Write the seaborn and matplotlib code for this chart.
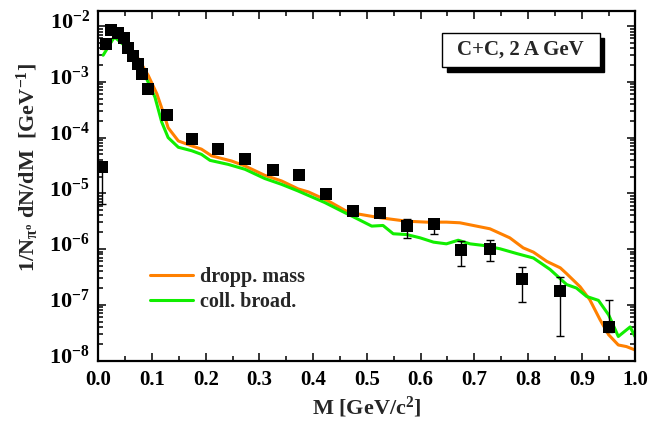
import numpy as np
import pandas as pd
import matplotlib
matplotlib.use("Agg")
import matplotlib.pyplot as plt
import matplotlib.ticker as mticker
import matplotlib.transforms as mtransforms
from matplotlib.patches import Rectangle
import seaborn as sns

# ---- measured e+e- spectrum (HADES-like points) ----
mass_pts = [0.007, 0.014, 0.024, 0.037, 0.047, 0.056, 0.064, 0.073, 0.082, 0.093,
            0.127, 0.174, 0.223, 0.274, 0.325, 0.374, 0.424, 0.474, 0.524,
            0.574, 0.625, 0.675, 0.729, 0.789, 0.859, 0.950]
yield_pts = [3.0e-5, 4.8e-3, 8.4e-3, 7.5e-3, 6.2e-3, 4.1e-3, 2.86e-3, 2.05e-3, 1.39e-3, 7.5e-4,
             2.5e-4, 9.4e-5, 6.2e-5, 4.1e-5, 2.6e-5, 2.1e-5, 9.6e-6, 4.8e-6, 4.5e-6,
             2.58e-6, 2.76e-6, 9.8e-7, 1.0e-6, 2.9e-7, 1.74e-7, 4.07e-8]
# upper / lower ends of the error bars (nan = hidden behind the marker)
err_hi = [np.nan] * 19 + [3.5e-6, 3.5e-6, 1.38e-6, 1.44e-6, 4.8e-7, 3.2e-7, 1.2e-7]
err_lo = [6.3e-6] + [np.nan] * 18 + [1.58e-6, 1.9e-6, 5.0e-7, 6.0e-7, 1.14e-7, 2.76e-8, 3.2e-8]

# ---- transport calculation: dropping mass scenario ----
mass_drop = [0.009, 0.031, 0.056, 0.0745, 0.093, 0.109, 0.124, 0.130, 0.149, 0.174, 0.192,
             0.211, 0.248, 0.273, 0.310, 0.341, 0.372, 0.391, 0.428, 0.465, 0.487, 0.524,
             0.574, 0.611, 0.648, 0.673, 0.704, 0.729, 0.766, 0.791, 0.810, 0.835, 0.860,
             0.872, 0.897, 0.915, 0.934, 0.950, 0.968, 0.983, 0.999]
yield_drop = [3.9e-3, 6.5e-3, 4.2e-3, 2.6e-3, 1.3e-3, 6.1e-4, 2.3e-4, 1.5e-4, 8.7e-5, 7.1e-5, 6.2e-5,
              4.7e-5, 3.8e-5, 3.1e-5, 2.1e-5, 1.67e-5, 1.2e-5, 1.06e-5, 7.3e-6, 4.6e-6, 4.2e-6, 3.65e-6,
              3.16e-6, 3.04e-6, 3.04e-6, 2.96e-6, 2.58e-6, 2.31e-6, 1.59e-6, 1.05e-6, 8.8e-7, 6.0e-7, 4.6e-7,
              3.6e-7, 2.1e-7, 1.23e-7, 5.4e-8, 2.9e-8, 1.9e-8, 1.78e-8, 1.55e-8]

# ---- transport calculation: collisional broadening scenario ----
mass_coll = [0.009, 0.030, 0.056, 0.0745, 0.090, 0.1055, 0.118, 0.130, 0.149, 0.174, 0.192,
             0.208, 0.242, 0.273, 0.310, 0.341, 0.372, 0.422, 0.453, 0.478, 0.509, 0.530,
             0.549, 0.574, 0.599, 0.624, 0.648, 0.670, 0.692, 0.717, 0.748, 0.779, 0.810,
             0.841, 0.872, 0.890, 0.909, 0.931, 0.950, 0.968, 0.990, 0.999]
yield_coll = [3.0e-3, 6.4e-3, 3.9e-3, 2.3e-3, 1.13e-3, 5.3e-4, 1.9e-4, 1.0e-4, 6.7e-5, 5.8e-5, 5.0e-5,
              3.9e-5, 3.3e-5, 2.7e-5, 1.84e-5, 1.45e-5, 1.1e-5, 6.8e-6, 4.8e-6, 3.65e-6, 2.58e-6, 2.65e-6,
              1.88e-6, 1.82e-6, 1.59e-6, 1.33e-6, 1.24e-6, 1.44e-6, 1.24e-6, 1.16e-6, 1.01e-6, 8.3e-7, 6.9e-7,
              4.3e-7, 2.3e-7, 2.0e-7, 1.41e-7, 1.2e-7, 6.6e-8, 2.7e-8, 4.0e-8, 2.7e-8]

series_labels = ["dropp. mass", "coll. broad."]
series_colors = ["#FF8000", "#11EE00"]
x_ticks = [0.0, 0.1, 0.2, 0.3, 0.4, 0.5, 0.6, 0.7, 0.8, 0.9, 1.0]
y_decades = [-8, -7, -6, -5, -4, -3, -2]

sns.set_theme(style="ticks")
plt.rcParams.update({
    "font.family": ["Liberation Serif", "DejaVu Serif"],
    "font.weight": "bold",
    "axes.labelweight": "bold",
    "mathtext.fontset": "custom",
    "mathtext.rm": "Liberation Serif:bold",
    "mathtext.bf": "Liberation Serif:bold",
    "mathtext.it": "Liberation Serif:bold:italic",
    "mathtext.default": "bf",
    "axes.linewidth": 1.6,
    "axes.edgecolor": "black",
})

fig = plt.figure(figsize=(6.48, 4.22), dpi=100)
ax = fig.add_axes([0.1517, 0.1457, 0.9807 - 0.1517, 0.9751 - 0.1457])

df_drop = pd.DataFrame({"M": mass_drop, "y": yield_drop})
df_coll = pd.DataFrame({"M": mass_coll, "y": yield_coll})
sns.lineplot(data=df_drop, x="M", y="y", ax=ax, color=series_colors[0], lw=2.2,
             sort=False, estimator=None, label=series_labels[0])
sns.lineplot(data=df_coll, x="M", y="y", ax=ax, color=series_colors[1], lw=2.2,
             sort=False, estimator=None, label=series_labels[1])

# error bars (asymmetric, only where they stick out of the marker)
yp = np.array(yield_pts)
lo_end = np.array(err_lo)
hi_end = np.array(err_hi)
lo = np.where(np.isnan(lo_end), 0.0, yp - np.nan_to_num(lo_end, nan=0.0))
hi = np.where(np.isnan(hi_end), 0.0, np.nan_to_num(hi_end, nan=0.0) - yp)
ax.errorbar(mass_pts, yield_pts, yerr=[lo, hi], fmt="none", ecolor="black",
            elinewidth=1.0, capsize=3, capthick=1.0, zorder=4)
df_pts = pd.DataFrame({"M": mass_pts, "y": yield_pts})
sns.scatterplot(data=df_pts, x="M", y="y", ax=ax, marker="s", s=70, color="black",
                edgecolor="black", linewidth=0, zorder=5, legend=False)

ax.set_yscale("log")
ax.set_xlim(0.0, 1.0)
ax.set_ylim(1e-8, 10 ** -1.72)

ax.xaxis.set_major_locator(mticker.FixedLocator(x_ticks))
ax.xaxis.set_minor_locator(mticker.MultipleLocator(0.05))
ax.xaxis.set_major_formatter(mticker.FormatStrFormatter("%.1f"))
ax.yaxis.set_major_locator(mticker.FixedLocator([10.0 ** d for d in y_decades]))
ax.yaxis.set_minor_locator(mticker.LogLocator(base=10, subs=np.arange(2, 10), numticks=20))
ax.yaxis.set_minor_formatter(mticker.NullFormatter())
ax.set_yticklabels([r"$\mathbf{10^{%d}}$" % d for d in y_decades])

ax.tick_params(which="both", direction="in", top=True, right=True, width=1.1,
               colors="black")
ax.tick_params(which="major", length=6)
ax.tick_params(which="minor", length=3.5)
ax.tick_params(axis="y", pad=6, labelsize=16)
ax.tick_params(axis="x", pad=7, labelsize=15)

# lift the decade labels a little above their ticks
offset = mtransforms.ScaledTranslation(0, 6 / 100, fig.dpi_scale_trans)
for lab in ax.get_yticklabels():
    lab.set_transform(lab.get_transform() + offset)

ax.set_xlabel(r"M [GeV/c$^{2}$]", fontsize=16, fontweight="bold", labelpad=3)
ax.set_ylabel(r"1/N$_{\pi^{o}}$ dN/dM  [GeV$^{-1}$]", fontsize=16, fontweight="bold", labelpad=4)
ax.yaxis.set_label_coords(-0.106, 0.55)

leg = ax.legend(loc="center left", bbox_to_anchor=(0.097, 0.204), frameon=False,
                fontsize=14.5, handlelength=2.1, handletextpad=0.35, labelspacing=0.25,
                borderpad=0, borderaxespad=0)
for t in leg.get_texts():
    t.set_fontweight("bold")

# system label with drop shadow
bx, by, bw, bh = 0.640, 0.840, 0.293, 0.097
dx, dy = 5 / 537.5, 5 / 350
ax.add_patch(Rectangle((bx + dx, by - dy), bw, bh, transform=ax.transAxes,
                       facecolor="black", edgecolor="black", zorder=6))
ax.add_patch(Rectangle((bx, by), bw, bh, transform=ax.transAxes,
                       facecolor="white", edgecolor="black", lw=1.0, zorder=7))
ax.text(bx + bw / 2, by + bh / 2, "C+C, 2 A GeV", transform=ax.transAxes,
        ha="center", va="center", fontsize=15, fontweight="bold", zorder=8)

fig.savefig("out.png", dpi=100)
